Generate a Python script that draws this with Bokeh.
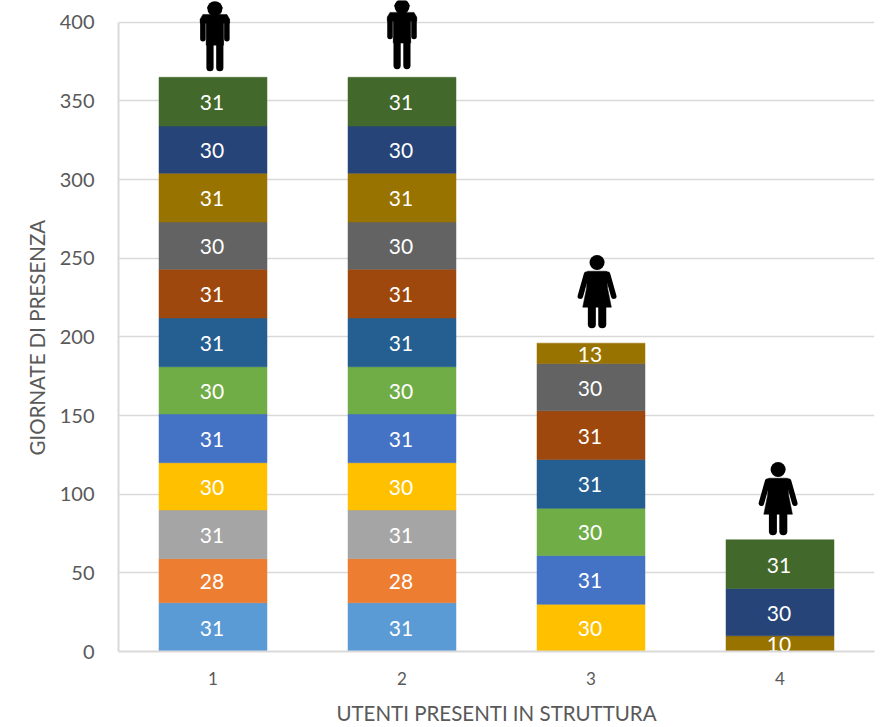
from bokeh.plotting import figure
from bokeh.models import ColumnDataSource, FixedTicker, Title
from bokeh.core.properties import value
from bokeh.embed import file_html
from bokeh.resources import INLINE

users = [1, 2, 3, 4]
months = ["m01", "m02", "m03", "m04", "m05", "m06", "m07", "m08", "m09", "m10", "m11", "m12"]
colors = ["#5B9BD5", "#ED7D31", "#A5A5A5", "#FFC000", "#4472C4", "#70AD47",
          "#255E91", "#9E480E", "#636363", "#997300", "#264478", "#43682B"]
user1 = [31, 28, 31, 30, 31, 30, 31, 31, 30, 31, 30, 31]
user2 = [31, 28, 31, 30, 31, 30, 31, 31, 30, 31, 30, 31]
user3 = [0, 0, 0, 30, 31, 30, 31, 31, 30, 13, 0, 0]
user4 = [0, 0, 0, 0, 0, 0, 0, 0, 0, 10, 30, 31]
y_ticks = [0, 50, 100, 150, 200, 250, 300, 350, 400]
x_title = "UTENTI PRESENTI IN STRUTTURA"
y_title = "GIORNATE DI PRESENZA"

# Icons: kind, x position on the category axis, base height on the value axis
icon_kind = ["man", "man", "woman", "woman"]
icon_x = [1.01, 2.0, 3.032, 3.99]
icon_base = [368.9, 370.2, 205.5, 73.9]

FONT = "Lato"
GREY = "#595959"
GRID = "#D9D9D9"
PX_X = 189.0
PX_Y = 1.573

# The value range runs on above 400 so that the icons over the tallest bars are not cut off
p = figure(width=886, height=727, x_range=(0.5, 4.5), y_range=(0, 413.8),
           output_backend="svg", toolbar_location=None,
           min_border_left=118, min_border_right=12, min_border_top=0, min_border_bottom=76,
           background_fill_color="white", border_fill_color="white")
p.outline_line_color = None
p.xgrid.visible = False
p.ygrid.grid_line_color = GRID
p.ygrid.grid_line_width = 1.6
p.ygrid.ticker = FixedTicker(ticks=y_ticks)

p.xaxis.ticker = FixedTicker(ticks=users)
p.yaxis.ticker = FixedTicker(ticks=y_ticks)
p.yaxis.bounds = (0, 400)
for ax in (p.xaxis[0], p.yaxis[0]):
    ax.axis_line_color = GRID
    ax.axis_line_width = 2
    ax.major_tick_line_color = None
    ax.minor_tick_line_color = None
    ax.major_label_text_color = GREY
    ax.major_label_text_font = FONT
p.xaxis.axis_label = x_title
p.xaxis.axis_label_text_color = GREY
p.xaxis.axis_label_text_font = FONT
p.xaxis.axis_label_text_font_style = "normal"
p.xaxis.major_label_text_font_size = "17px"
p.yaxis.major_label_text_font_size = "20px"
p.xaxis.axis_label_text_font_size = "20.5px"
p.xaxis.major_label_standoff = 14
p.yaxis.major_label_standoff = 18
p.xaxis.axis_label_standoff = 13

# Placed along the 0-400 span rather than centred on the taller frame
p.add_layout(Title(text=y_title, align="left", offset=196, standoff=16, text_color=GREY,
                   text_font=FONT, text_font_size="20.5px", text_font_style="normal"), "left")

rows = [user1, user2, user3, user4]
xs, bottoms, tops, fills, labels, mids = [], [], [], [], [], []
for u, row in zip(users, rows):
    acc = 0
    for v, c in zip(row, colors):
        if v:
            xs.append(u)
            bottoms.append(acc)
            tops.append(acc + v)
            fills.append(c)
            labels.append(str(v))
            mids.append(acc + v / 2)
            acc += v
src = ColumnDataSource(dict(x=xs, bottom=bottoms, top=tops, fill=fills, label=labels, mid=mids))
p.vbar(x="x", bottom="bottom", top="top", width=108 / PX_X, fill_color="fill",
       line_color="fill", line_width=0.5, source=src)
p.text(x="x", y="mid", text="label", source=src, text_color="white",
       text_font=value(FONT), text_font_size="21px",
       text_align="center", text_baseline="middle", x_offset=-1, y_offset=1)


def poly(cx, base, pts):
    p.patch([cx + a / PX_X for a, _ in pts], [base + b / PX_Y for _, b in pts],
            fill_color="black", line_color="black", line_width=0.5)


def stroke(cx, base, a, b, w):
    p.line([cx + a[0] / PX_X, cx + b[0] / PX_X], [base + a[1] / PX_Y, base + b[1] / PX_Y],
           line_color="black", line_width=w, line_cap="round")


def head(cx, base, up, size):
    p.scatter([cx], [base + up / PX_Y], size=size, marker="circle",
              fill_color="black", line_color=None)


def man(cx, base):
    head(cx, base, 62.5, 15)
    poly(cx, base, [(-7.8, 63), (7.8, 63), (4, 68), (-4, 68)])
    poly(cx, base, [(-14.7, 52), (-12, 56.7), (12, 56.7), (14.7, 52), (14.7, 48), (-14.7, 48)])
    poly(cx, base, [(-8.7, 50), (8.7, 50), (8.7, 26), (-8.7, 26)])
    for s in (-1, 1):
        stroke(cx, base, (s * 12, 50), (s * 12, 32.5), 5.5)
        stroke(cx, base, (s * 4.9, 30), (s * 4.9, 3.5), 7.2)


def woman(cx, base):
    head(cx, base, 65.7, 15)
    poly(cx, base, [(-9.5, 57), (9.5, 57), (10.5, 40), (14.3, 21), (-14.3, 21), (-10.5, 40)])
    for s in (-1, 1):
        stroke(cx, base, (s * 10.5, 54), (s * 16.7, 32), 5.5)
        stroke(cx, base, (s * 5.2, 23), (s * 5.2, 4), 8)


for kind, ix, ib in zip(icon_kind, icon_x, icon_base):
    (man if kind == "man" else woman)(ix, ib)

open("out.html", "w").write(file_html(p, INLINE))
